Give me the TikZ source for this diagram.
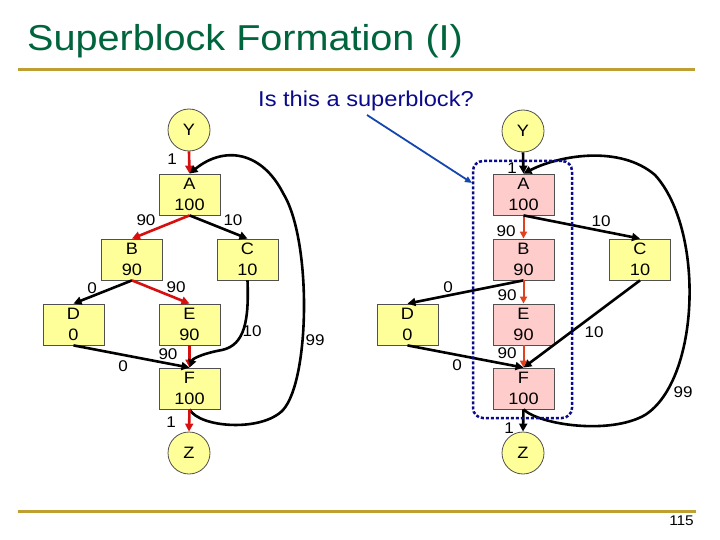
\documentclass[tikz,border=0pt]{standalone}
\usepackage{fontspec}
\setmainfont{Liberation Sans}[FakeStretch=1.1]
\usetikzlibrary{arrows.meta}
\definecolor{titlegreen}{RGB}{0,100,60}
\definecolor{gold}{RGB}{190,160,50}
\definecolor{navy}{RGB}{10,10,140}
\definecolor{arrowblue}{RGB}{20,70,175}
\definecolor{boxyellow}{RGB}{255,255,153}
\definecolor{boxpink}{RGB}{255,204,204}
\definecolor{redA}{RGB}{215,15,15}
\definecolor{redB}{RGB}{225,65,30}
\definecolor{boxline}{RGB}{80,80,80}
\tikzset{
  blockbox/.style={draw=boxline, line width=0.8pt, fill=boxyellow, minimum width=61pt, minimum height=41pt, inner sep=0pt, align=center, font=\fontsize{16.5}{21}\selectfont},
  pinkbox/.style={blockbox, fill=boxpink},
  endcirc/.style={circle, draw=boxline, line width=0.8pt, fill=boxyellow, minimum size=42pt, inner sep=0pt, font=\fontsize{16.5}{19}\selectfont},
  lab/.style={inner sep=0pt, font=\fontsize{15.5}{18}\selectfont},
  tip/.style={-{Triangle[length=8pt,width=8pt]}},
  blk/.style={tip, line width=2.6pt, black},
  redl/.style={tip, line width=2.6pt, redA},
  redr/.style={-{Triangle[length=7pt,width=7pt]}, line width=2pt, redB},
}
\begin{document}
\begin{tikzpicture}[x=1pt,y=-1pt]
\useasboundingbox (0,0) rectangle (720,540);
% title and rules
\node[anchor=base west, inner sep=0pt, text=titlegreen, font=\fontsize{36}{40}\selectfont] (title) at (27,51) {Superblock Formation (I)};
\fill[gold] (18,68.5) rectangle (695,71.5);
\fill[gold] (18,509.5) rectangle (696,512.5);
\node[anchor=base east, inner sep=0pt, font=\fontsize{14}{16}\selectfont] (pg) at (694,525) {115};
\node[anchor=base west, inner sep=0pt, text=navy, font=\fontsize{21.5}{24}\selectfont] (q) at (258,107) {Is this a superblock?};

% ---------- left graph ----------
\node[endcirc] (Yl) at (189,130) {Y};
\node[blockbox] (Al) at (189.5,194.5) {A\\100};
\node[blockbox] (Bl) at (132,259.5) {B\\90};
\node[blockbox] (Cl) at (247.5,259.5) {C\\10};
\node[blockbox] (Dl) at (73.5,324.5) {D\\0};
\node[blockbox] (El) at (189.5,324.5) {E\\90};
\node[blockbox] (Fl) at (189.5,388.5) {F\\100};
\node[endcirc] (Zl) at (189,453) {Z};

\draw[redl] (Yl.south) -- (Al.north);
\draw[redl] (Al.south) -- (Bl.north);
\draw[blk] (Al.south) -- (Cl.north);
\draw[blk] (Bl.south) -- (Dl.north);
\draw[redl] (Bl.south) -- (El.north);
\draw[blk] (Dl.south) -- (Fl.north);
\draw[redl] (El.south) -- (Fl.north);
\draw[blk] (Cl.south) .. controls (249,320) and (245,345) .. (222,350) .. controls (205,353) and (193,358) .. (Fl.north);
\draw[blk] (Fl.south) .. controls (200,428) and (262,432) .. (283,410) .. controls (310,380) and (312,240) .. (283,193) .. controls (262,152) and (225,145) .. (Al.north);
\draw[redl] (Fl.south) -- (Zl.north);

\node[lab] (la1) at (172,159) {1};
\node[lab] (la2) at (146,220) {90};
\node[lab] (la3) at (233,220) {10};
\node[lab] (la4) at (92,288) {0};
\node[lab] (la5) at (176,287) {90};
\node[lab] (la6) at (252,331) {10};
\node[lab] (la7) at (168,354) {90};
\node[lab] (la8) at (123,366) {0};
\node[lab] (la9) at (315,340) {99};
\node[lab] (la10) at (171,422) {1};

% ---------- right graph ----------
\node[endcirc] (Yr) at (523,131) {Y};
\node[pinkbox] (Ar) at (523.5,194.5) {A\\100};
\node[pinkbox] (Br) at (523.5,259.5) {B\\90};
\node[blockbox] (Cr) at (640,259.5) {C\\10};
\node[blockbox] (Dr) at (407.5,324.5) {D\\0};
\node[pinkbox] (Er) at (523.5,324.5) {E\\90};
\node[pinkbox] (Fr) at (523.5,388.5) {F\\100};
\node[endcirc] (Zr) at (523,453) {Z};

\draw[blk] (Yr.south) -- (Ar.north);
\draw[redr] (Ar.south) -- (Br.north);
\draw[blk] (Ar.south) -- (Cr.north);
\draw[blk] (Br.south) -- (Dr.north);
\draw[redr] (Br.south) -- (Er.north);
\draw[blk] (Dr.south) -- (Fr.north);
\draw[blk] (Cr.south) -- (Fr.north);
\draw[redr] (Er.south) -- (Fr.north);
\draw[blk] (Fr.south) .. controls (540,425) and (610,435) .. (645,415) .. controls (700,380) and (705,230) .. (655,175) .. controls (620,145) and (560,155) .. (Ar.north);
\draw[blk] (Fr.south) -- (Zr.north);

\node[lab] (lb1) at (512,168) {1};
\node[lab] (lb2) at (506,231) {90};
\node[lab] (lb3) at (601,221) {10};
\node[lab] (lb4) at (448,287) {0};
\node[lab] (lb5) at (507,295) {90};
\node[lab] (lb6) at (594,332) {10};
\node[lab] (lb7) at (507,353) {90};
\node[lab] (lb8) at (457,365) {0};
\node[lab] (lb9) at (683,392) {99};
\node[lab] (lb10) at (509,428) {1};

% superblock outline
\node[draw=navy, line width=2.5pt, dash pattern=on 3pt off 2pt, rounded corners=10pt, minimum width=99pt, minimum height=257pt, inner sep=0pt] (sb) at (522.5,289.5) {};
\coordinate (qs) at (367,115);
\coordinate (qe) at (472,183);
\draw[arrowblue, line width=1.8pt, -{Triangle[length=7pt,width=6pt]}] (qs) -- (qe);
\end{tikzpicture}
\end{document}
